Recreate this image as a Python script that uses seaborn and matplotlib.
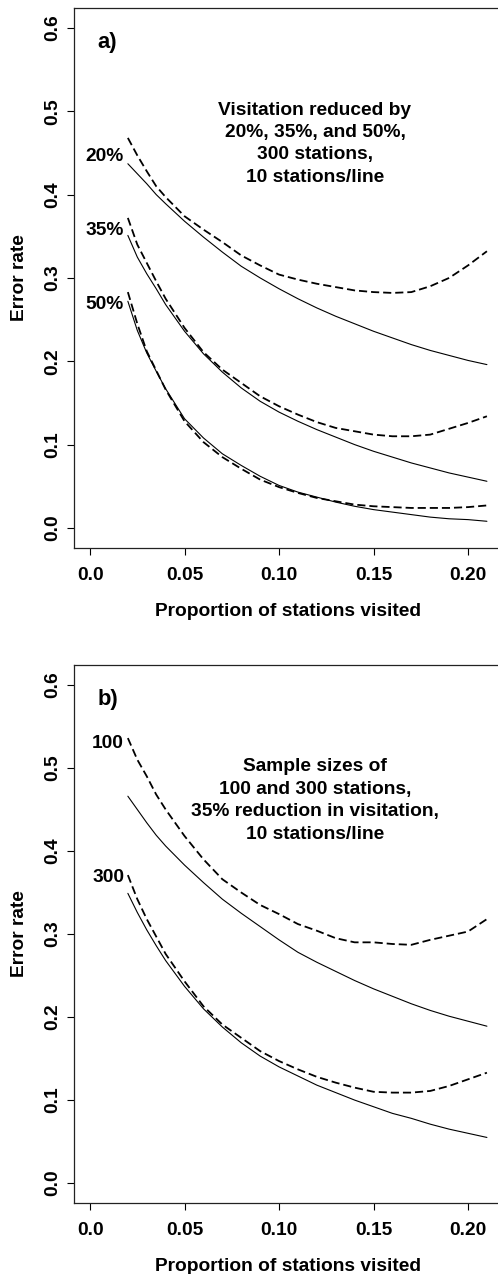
import numpy as np
import pandas as pd
import seaborn as sns
import matplotlib.pyplot as plt

# proportion of stations visited
prop = [0.02, 0.025, 0.03, 0.035, 0.04, 0.05, 0.06, 0.07, 0.08, 0.09, 0.10,
        0.11, 0.12, 0.13, 0.14, 0.15, 0.16, 0.17, 0.18, 0.19, 0.20, 0.21]

# panel a) visitation reduced by 20/35/50%, 300 stations
a20_solid = [0.437, 0.425, 0.413, 0.400, 0.389, 0.368, 0.349, 0.331, 0.314, 0.300, 0.287,
             0.275, 0.264, 0.254, 0.245, 0.236, 0.228, 0.220, 0.213, 0.207, 0.201, 0.196]
a20_dash = [0.468, 0.447, 0.428, 0.410, 0.397, 0.374, 0.358, 0.343, 0.327, 0.315, 0.304,
            0.298, 0.293, 0.289, 0.285, 0.283, 0.282, 0.283, 0.290, 0.300, 0.315, 0.332]
a35_solid = [0.351, 0.325, 0.305, 0.287, 0.268, 0.236, 0.209, 0.187, 0.168, 0.152, 0.139,
             0.128, 0.118, 0.109, 0.100, 0.092, 0.085, 0.078, 0.072, 0.066, 0.061, 0.056]
a35_dash = [0.372, 0.340, 0.318, 0.296, 0.275, 0.240, 0.211, 0.190, 0.174, 0.158, 0.146,
            0.136, 0.127, 0.120, 0.116, 0.112, 0.110, 0.110, 0.112, 0.119, 0.126, 0.134]
a50_solid = [0.272, 0.237, 0.210, 0.188, 0.167, 0.131, 0.108, 0.089, 0.075, 0.062, 0.051,
             0.043, 0.037, 0.031, 0.026, 0.022, 0.019, 0.016, 0.013, 0.011, 0.010, 0.008]
a50_dash = [0.283, 0.245, 0.212, 0.189, 0.166, 0.128, 0.103, 0.085, 0.071, 0.058, 0.049,
            0.042, 0.036, 0.032, 0.028, 0.026, 0.025, 0.024, 0.024, 0.024, 0.025, 0.027]

# panel b) sample sizes 100 and 300, 35% reduction
b100_solid = [0.466, 0.450, 0.434, 0.419, 0.406, 0.383, 0.362, 0.342, 0.325, 0.309, 0.293,
              0.278, 0.266, 0.255, 0.244, 0.234, 0.225, 0.216, 0.208, 0.201, 0.195, 0.189]
b100_dash = [0.536, 0.510, 0.490, 0.468, 0.450, 0.418, 0.390, 0.366, 0.350, 0.335, 0.324,
             0.312, 0.304, 0.295, 0.290, 0.290, 0.288, 0.287, 0.293, 0.298, 0.303, 0.318]
b300_solid = [0.349, 0.326, 0.305, 0.286, 0.268, 0.237, 0.210, 0.188, 0.169, 0.153, 0.140,
              0.129, 0.118, 0.109, 0.100, 0.092, 0.084, 0.078, 0.071, 0.065, 0.060, 0.055]
b300_dash = [0.371, 0.342, 0.318, 0.297, 0.276, 0.243, 0.213, 0.191, 0.175, 0.159, 0.147,
             0.137, 0.128, 0.121, 0.115, 0.110, 0.109, 0.109, 0.111, 0.117, 0.125, 0.133]

a_labels = ["20%", "35%", "50%"]
b_labels = ["100", "300"]

sns.set_style("ticks")
plt.rcParams['font.family'] = ['Liberation Sans', 'DejaVu Sans']
plt.rcParams['font.weight'] = 'bold'
plt.rcParams['axes.labelweight'] = 'bold'
plt.rcParams['text.color'] = 'black'
plt.rcParams['axes.labelcolor'] = 'black'
plt.rcParams['xtick.color'] = 'black'
plt.rcParams['ytick.color'] = 'black'

fs = 13.8

fig = plt.figure(figsize=(4.98, 12.74), dpi=100)
ax_a = fig.add_axes([0.1486, 0.5699, 0.8614, 0.4239])
ax_b = fig.add_axes([0.1486, 0.0557, 0.8614, 0.4223])


def draw_pair(ax, solid, dash):
    sns.lineplot(x=prop, y=solid, ax=ax, color='black', linewidth=0.8,
                 estimator=None, sort=False)
    sns.lineplot(x=prop, y=dash, ax=ax, color='black', linewidth=1.3,
                 estimator=None, sort=False, linestyle=(0, (4.5, 2.2)))


def style_axes(ax, tag, note, labels, label_y):
    ax.set_xlim(-0.0085, 0.2185)
    ax.set_ylim(-0.024, 0.624)
    ax.set_xticks([0.0, 0.05, 0.10, 0.15, 0.20])
    ax.set_xticklabels(["0.0", "0.05", "0.10", "0.15", "0.20"])
    ax.set_yticks([0.0, 0.1, 0.2, 0.3, 0.4, 0.5, 0.6])
    ax.set_yticklabels(["0.0", "0.1", "0.2", "0.3", "0.4", "0.5", "0.6"],
                       rotation=90, va='center')
    ax.tick_params(axis='both', direction='out', length=5, width=0.8,
                   labelsize=fs, color='black', labelcolor='black')
    ax.tick_params(axis='x', pad=9)
    ax.tick_params(axis='y', pad=4)
    for s in ax.spines.values():
        s.set_visible(True)
        s.set_linewidth(0.9)
        s.set_color('#222222')
    ax.set_xlabel("Proportion of stations visited", fontsize=fs)
    ax.set_ylabel("Error rate", fontsize=fs)
    ax.xaxis.set_label_coords(0.5, -64 / 540)
    ax.xaxis.label.set_va('center')
    ax.yaxis.set_label_coords(-55 / 429, 0.5)
    ax.yaxis.label.set_va('center')
    ax.text(0.004, 0.582, tag, fontsize=fs + 2, ha='left', va='center')
    ax.text(0.119, 0.461, note, fontsize=fs, ha='center', va='center',
            linespacing=1.42)
    for lab, yy in zip(labels, label_y):
        ax.text(0.018, yy, lab, fontsize=fs, ha='right', va='center')


draw_pair(ax_a, a20_solid, a20_dash)
draw_pair(ax_a, a35_solid, a35_dash)
draw_pair(ax_a, a50_solid, a50_dash)
style_axes(ax_a, "a)",
           "Visitation reduced by\n20%, 35%, and 50%,\n300 stations,\n10 stations/line",
           a_labels, [0.446, 0.357, 0.268])

draw_pair(ax_b, b100_solid, b100_dash)
draw_pair(ax_b, b300_solid, b300_dash)
style_axes(ax_b, "b)",
           "Sample sizes of\n100 and 300 stations,\n35% reduction in visitation,\n10 stations/line",
           b_labels, [0.530, 0.3675])

fig.savefig("out.png", dpi=100)
